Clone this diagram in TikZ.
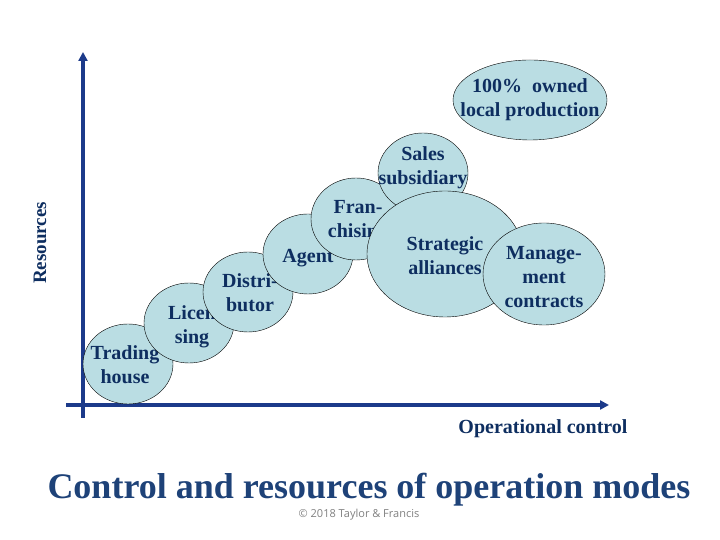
\documentclass[tikz,border=0pt]{standalone}
\usepackage{fontspec}
\setmainfont{Liberation Serif}
\newfontfamily\notefont{Open Sans}
\usetikzlibrary{shapes.geometric,arrows.meta,positioning}

\definecolor{modefill}{RGB}{186,221,227}
\definecolor{modetext}{RGB}{14,46,96}
\definecolor{axisblue}{RGB}{28,58,138}
\definecolor{titleblue}{RGB}{30,66,120}

\begin{document}
\begin{tikzpicture}[x=1pt, y=1pt,
        mode/.style={ellipse, draw=black, thin, fill=modefill, inner sep=0pt},
        modelbl/.style={font=\bfseries\fontsize{20}{24}\selectfont, text=modetext,
                        align=center, inner sep=0pt},
        axis/.style={line width=3.5pt, draw=axisblue},
        arr/.style={-{Triangle[length=9pt, width=9pt]}}]
        \useasboundingbox (0,0) rectangle (720,540);
        % axes
        \coordinate (ybot)   at (83,122);
        \coordinate (ytop)   at (83,488);
        \coordinate (xleft)  at (66,135);
        \coordinate (xright) at (609,135);
        \draw[axis, arr] (ybot) -- (ytop);
        \draw[axis, arr] (xleft) -- (xright);
        \node[font=\bfseries\fontsize{19}{22}\selectfont, text=modetext, rotate=90]
            (res) at (40,297) {Resources};
        \node[font=\bfseries\fontsize{20}{24}\selectfont, text=modetext]
            (opc) at (543,111) {Operational control};
        % operation modes, left to right
        \node[mode, minimum width=90, minimum height=80,
              label={[modelbl, xshift=-3, yshift=-1]center:Trading\\house}] (trading) at (128,176) {};
        \node[mode, minimum width=90, minimum height=80,
              label={[modelbl, xshift=3, yshift=-4]center:Licen\\sing}] (licensing) at (189,217) {};
        \node[mode, minimum width=90, minimum height=80,
              label={[modelbl, xshift=2, yshift=-1]center:Distri-\\butor}] (distributor) at (248,248) {};
        \node[mode, minimum width=90, minimum height=80,
              label={[modelbl, yshift=-4]center:Agent}] (agent) at (308,286) {};
        \node[mode, minimum width=90, minimum height=82,
              label={[modelbl, xshift=2, yshift=-2]center:Fran-\\chising}] (franchising) at (356,321) {};
        \node[mode, minimum width=90, minimum height=80,
              label={[modelbl, yshift=5]center:Sales\\subsidiary}] (sales) at (423,367) {};
        \node[mode, minimum width=156, minimum height=126,
              label={[modelbl, yshift=-2]center:Strategic\\alliances}] (alliances) at (445,286) {};
        \node[mode, minimum width=122, minimum height=102,
              label={[modelbl, yshift=-3]center:Manage-\\ment\\contracts}] (mgmt) at (544,266) {};
        \node[mode, minimum width=154, minimum height=80,
              label={[modelbl]center:100\%\ \ owned\\local production}] (owned) at (530,440) {};
        % title and note
        \node[font=\bfseries\fontsize{36}{40}\selectfont, text=titleblue]
            (title) at (369,50) {Control and resources of operation modes};
        \node[font=\notefont\fontsize{11}{13}\selectfont, text=gray]
            (note) at (359,25) {\textcopyright\ 2018 Taylor \& Francis};
\end{tikzpicture}
\end{document}
